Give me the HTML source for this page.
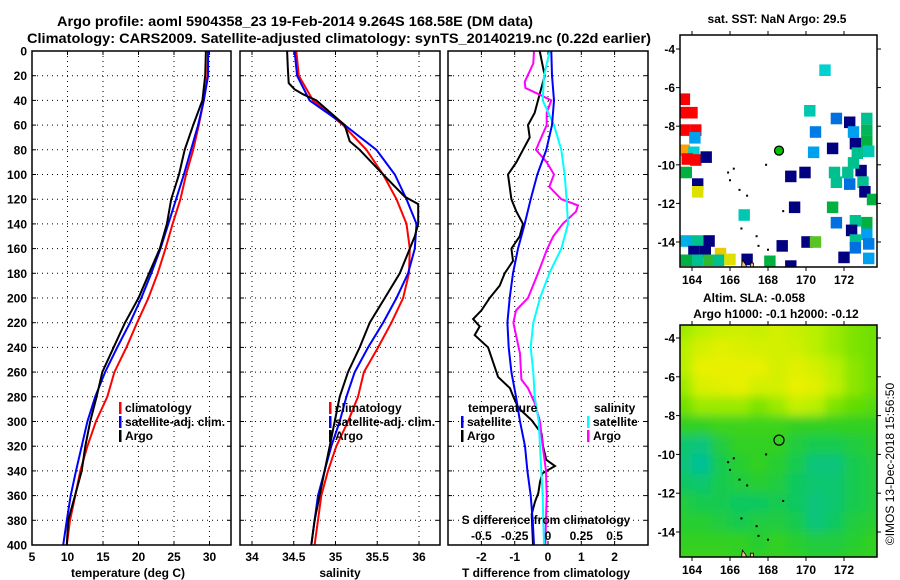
<!DOCTYPE html>
<html><head><meta charset="utf-8"><style>
body{margin:0;background:#fff;}
svg{display:block;font-family:"Liberation Sans",Arial,sans-serif;font-weight:bold;}
</style></head><body>
<svg id="fig" width="900" height="580" viewBox="0 0 900 580" xmlns="http://www.w3.org/2000/svg">
<rect width="900" height="580" fill="#fff"/>
<text x="57" y="26" font-size="14" textLength="476" lengthAdjust="spacingAndGlyphs">Argo profile: aoml 5904358_23 19-Feb-2014 9.264S 168.58E (DM data)</text>
<text x="27" y="43" font-size="14" textLength="624" lengthAdjust="spacingAndGlyphs">Climatology: CARS2009. Satellite-adjusted climatology: synTS_20140219.nc (0.22d earlier)</text>
<g id="plots"></g>
</svg>
<script>
// ---------- profile data (depth in dbar) ----------
const depthStd=[0,20,40,60,80,100,120,140,160,180,200,220,240,260,280,300,320,340,360,380,400];
const tempClim=[29.8,29.7,29.2,28.5,27.7,26.7,25.9,24.8,23.8,22.7,21.4,19.8,18.3,16.6,15.6,14.0,12.8,11.8,11.1,10.35,9.9];
const tempSat=[29.8,29.8,29.2,28.4,27.4,26.4,25.3,24.2,23.1,21.8,20.4,18.8,17.0,15.3,13.9,12.8,12.0,11.2,10.45,9.9,9.4];
const tempArgo=[29.5,29.4,29.0,27.7,26.5,25.7,24.6,24.0,23.0,21.5,20.0,18.1,16.5,14.9,14.1,13.2,12.5,12.0,11.05,10.1,9.9];
const salClim=[34.53,34.56,34.73,35.09,35.37,35.57,35.73,35.85,35.89,35.88,35.81,35.67,35.51,35.34,35.27,35.15,35.01,34.91,34.83,34.79,34.75];
const salSat=[34.51,34.54,34.69,35.11,35.49,35.71,35.85,35.97,35.95,35.87,35.73,35.57,35.39,35.23,35.13,35.05,34.95,34.87,34.79,34.75,34.71];
const salArgoDepth=[0,15,26,31,35,40,60,73,80,100,118,124,140,150,160,180,200,220,240,260,280,300,320,340,360,380,400];
const salArgo=[34.42,34.43,34.44,34.51,34.61,34.77,35.11,35.17,35.29,35.57,35.83,35.99,35.99,35.95,35.89,35.77,35.59,35.41,35.29,35.15,35.05,34.99,34.93,34.87,34.81,34.75,34.71];
const tdiffSat=[0.1,0.12,0.18,0.12,-0.05,-0.32,-0.52,-0.7,-0.9,-1.05,-1.15,-1.22,-1.18,-1.1,-0.96,-0.84,-0.69,-0.62,-0.52,-0.46,-0.42];
const tdiffArgoDepth=[0,20,40,50,60,70,80,90,100,120,130,140,150,160,170,180,190,200,210,217,223,230,240,264,273,280,289,299,310,320,331,336,342,349,358,365,375,400];
const tdiffArgo=[-0.25,-0.1,-0.3,-0.4,-0.6,-0.55,-0.75,-0.95,-1.2,-1.1,-0.95,-0.75,-0.85,-1.1,-1.05,-1.3,-1.45,-1.75,-2.0,-2.25,-2.05,-2.2,-1.8,-1.5,-1.14,-1.04,-0.89,-0.49,-0.19,-0.15,-0.05,0.21,-0.17,-0.24,-0.29,-0.39,-0.49,-0.45];
const sdiffSat=[0.0125,-0.03,-0.04,0.045,0.1,0.125,0.14,0.15,0.10,0.01,-0.06,-0.11,-0.13,-0.11,-0.10,-0.07,-0.06,-0.05,-0.04,-0.035,-0.03];
const sdiffArgoDepth=[0,10,25,30,35,40,50,60,70,80,90,100,110,120,125,130,140,150,160,180,200,210,220,230,245,266,273,285,300,320,340,360,380,400];
const sdiffArgo=[-0.105,-0.11,-0.175,-0.17,-0.07,0.025,-0.01,-0.01,-0.05,-0.09,-0.01,0.045,0.01,0.1,0.225,0.21,0.11,0.04,-0.005,-0.075,-0.15,-0.24,-0.26,-0.24,-0.21,-0.2,-0.15,-0.1,-0.06,-0.04,-0.015,-0.01,-0.015,-0.02];
const depthTicks=[0,20,40,60,80,100,120,140,160,180,200,220,240,260,280,300,320,340,360,380,400];
const tempTicks=[5,10,15,20,25,30];
const salTicks=[34,34.5,35,35.5,36];
const tdiffTicks=[-2,-1,0,1,2];
const sdiffTicks=[-0.5,-0.25,0,0.25,0.5];
const sdiffTickLabels=["-0.5","-0.25","0","0.25","0.5"];
// ---------- map data ----------
const lonTicks=[164,166,168,170,172];
const latTicks=[-4,-6,-8,-10,-12,-14];
const argoLon=168.58, argoLat=-9.264;
const sstLon=[171.0,163.6,163.6,164.0,163.6,164.2,164.15,163.6,164.1,163.75,164.2,164.75,163.7,164.3,164.3,170.2,171.6,170.5,171.4,170.4,172.3,172.5,173.2,173.2,173.2,172.6,173.3,172.7,171.5,172.2,172.9,171.6,172.3,173.0,172.5,169.2,169.95,169.4,171.4,171.6,173.1,173.5,166.75,172.6,173.2,172.4,172.6,173.2,172.6,173.3,168.75,170.05,170.5,172.0,173.3,163.7,164.3,164.9,164.1,164.7,165.5,163.7,164.3,164.9,165.4,166.0,166.9,168.1,169.2];
const sstLat=[-5.1,-6.6,-7.3,-7.3,-8.2,-8.2,-8.6,-9.25,-9.35,-9.7,-9.75,-9.6,-10.4,-11.0,-11.4,-7.2,-7.6,-8.3,-9.15,-9.35,-7.8,-8.3,-7.6,-8.2,-8.8,-8.9,-9.3,-9.4,-10.4,-10.4,-10.3,-10.9,-11.0,-10.9,-9.9,-10.6,-10.4,-12.2,-12.2,-13.0,-11.4,-11.8,-12.6,-12.9,-13.0,-13.4,-13.9,-13.6,-14.3,-14.1,-14.2,-14.0,-14.0,-14.8,-14.85,-13.95,-13.95,-13.95,-14.5,-14.5,-14.6,-14.95,-14.95,-14.95,-14.95,-14.9,-14.9,-15.0,-15.25];
const sstVal=[28.6,30.4,30.4,30.4,30.4,30.4,28.3,29.9,28.6,30.4,30.4,26.8,29.1,26.8,29.6,28.7,27.9,28.0,26.8,28.3,26.8,28.3,28.8,29.0,29.1,26.8,28.7,28.8,28.8,28.8,26.8,28.8,27.9,28.8,28.8,26.8,26.8,26.8,29.1,27.9,26.8,29.1,28.7,28.8,29.1,26.8,28.8,28.3,27.9,28.0,26.8,26.8,29.3,26.8,28.3,28.4,28.8,26.8,26.8,26.8,29.7,29.1,28.8,29.2,28.8,29.6,26.8,29.1,26.8];
const slaLonCenters=[163.5,164.5,165.5,166.5,167.5,168.5,169.5,170.5,171.5,172.5,173.5];
const slaLatCenters=[-3.5,-4.5,-5.5,-6.5,-7.5,-8.5,-9.5,-10.5,-11.5,-12.5,-13.5,-14.5,-15.5];
const slaGrid=[
[0.08,0.10,0.12,0.13,0.12,0.14,0.12,0.10,0.08,0.06,0.05],
[0.10,0.14,0.16,0.15,0.14,0.14,0.13,0.10,0.08,0.06,0.05],
[0.10,0.17,0.18,0.17,0.17,0.14,0.16,0.14,0.10,0.07,0.05],
[0.08,0.15,0.16,0.17,0.14,0.14,0.18,0.16,0.11,0.07,0.05],
[0.05,0.08,0.08,0.08,0.06,0.08,0.12,0.10,0.06,0.04,0.03],
[0.00,0.00,0.01,0.01,0.01,0.01,0.00,0.00,0.00,0.00,0.00],
[-0.05,-0.06,-0.02,0,0,0,-0.02,-0.03,-0.03,-0.02,-0.01],
[-0.06,-0.08,-0.03,-0.01,0,-0.01,-0.03,-0.06,-0.06,-0.03,-0.02],
[-0.04,-0.05,-0.03,-0.02,-0.01,-0.02,-0.04,-0.05,-0.05,-0.03,-0.02],
[-0.02,-0.03,-0.03,-0.04,-0.04,-0.03,-0.04,-0.06,-0.05,-0.03,-0.02],
[-0.01,-0.01,-0.02,-0.03,-0.02,-0.02,-0.03,-0.06,-0.04,-0.02,-0.01],
[0,0,0,0,-0.01,0,-0.01,-0.02,-0.02,-0.01,0],
[0.01,0.01,0.01,0,0,0,0,-0.01,-0.01,0,0]];

const NS="http://www.w3.org/2000/svg";
const root=document.getElementById('plots');
function mk(tag,attrs,parent){const e=document.createElementNS(NS,tag);for(const k in attrs)e.setAttribute(k,attrs[k]);(parent||root).appendChild(e);return e;}
function txt(s,x,y,size,anchor,parent){const t=mk('text',{x:x,y:y,'font-size':size,'text-anchor':anchor||'start'},parent);t.textContent=s;return t;}

const TOP=51,BOT=545;
function yD(d){return TOP+d*(BOT-TOP)/400;}
function xT(v){return 32+(v-5)*7.1;}
function xS(v){return 252+(v-34)*83.5;}
function xTd(v){return 548+v*33.3;}
function xSd(v){return 548+v*133.2;}

function panel(name,x0,x1,xticks,xfn){
  const g=mk('g',{});
  
  
  xticks.forEach(v=>{const x=xfn(v);if(x>x0+2&&x<x1-2)mk('line',{x1:x,y1:TOP,x2:x,y2:BOT,stroke:'#000','stroke-width':1,'stroke-dasharray':'1,4'},g);});
  depthTicks.forEach(d=>{const y=yD(d);if(d>0&&d<400){mk('line',{x1:x0,y1:y,x2:x1,y2:y,stroke:'#000','stroke-width':1,'stroke-dasharray':'1,4'},g);
    mk('line',{x1:x0,y1:y,x2:x0+4,y2:y,stroke:'#000','stroke-width':1},g);mk('line',{x1:x1-4,y1:y,x2:x1,y2:y,stroke:'#000','stroke-width':1},g);}});
  xticks.forEach(v=>{const x=xfn(v);mk('line',{x1:x,y1:BOT,x2:x,y2:BOT-4,stroke:'#000'},g);mk('line',{x1:x,y1:TOP,x2:x,y2:TOP+4,stroke:'#000'},g);});
  return g;
}
function series(g,name,depths,vals,xfn,color,w){
  const pts=vals.map((v,i)=>xfn(v).toFixed(1)+','+yD(depths[i]).toFixed(1)).join(' ');
  const p=mk('polyline',{points:pts,fill:'none',stroke:color,'stroke-width':w||2,'stroke-linejoin':'miter'},g);
  
  
}
function frame(g,x0,x1){mk('rect',{x:x0,y:TOP,width:x1-x0,height:BOT-TOP,fill:'none',stroke:'#000','stroke-width':1.5},g);}
function legend(g,items,x,y){items.forEach((it,i)=>{const yy=y+i*14;mk('rect',{x:x,y:yy-10,width:2.5,height:12,fill:it[1]},g);const t=txt(it[0],x+6,yy,12,'start',g);});}

// Panel 1
let g1=panel('temperature-panel',32,231,tempTicks,xT);
series(g1,'temp-climatology-line',depthStd,tempClim,xT,'#ff0000');
series(g1,'temp-satellite-line',depthStd,tempSat,xT,'#0000ff');
series(g1,'temp-argo-line',depthStd,tempArgo,xT,'#000000');
frame(g1,32,231);
depthTicks.forEach(d=>txt(String(d),27,yD(d)+4.5,12,'end',g1));
tempTicks.forEach(v=>txt(String(v),xT(v),561,12,'middle',g1));
let xt1=txt('temperature (deg C)',128,577,12,'middle',g1);
legend(g1,[['climatology','#ff0000'],['satellite-adj. clim.','#0000ff'],['Argo','#000']],119,412);

// Panel 2
let g2=panel('salinity-panel',240,440,salTicks,xS);
series(g2,'sal-climatology-line',depthStd,salClim,xS,'#ff0000');
series(g2,'sal-satellite-line',depthStd,salSat,xS,'#0000ff');
series(g2,'sal-argo-line',salArgoDepth,salArgo,xS,'#000000');
frame(g2,240,440);
salTicks.forEach(v=>txt(String(v),xS(v),561,12,'middle',g2));
let xt2=txt('salinity',340,577,12,'middle',g2);
legend(g2,[['climatology','#ff0000'],['satellite-adj. clim.','#0000ff'],['Argo','#000']],329,412);

// Panel 3
let g3=panel('difference-panel',448,648,tdiffTicks,xTd);
series(g3,'tdiff-argo-line',tdiffArgoDepth,tdiffArgo,xTd,'#000000');
series(g3,'sdiff-argo-line',sdiffArgoDepth,sdiffArgo,xSd,'#ff00ff');
series(g3,'sdiff-satellite-line',depthStd,sdiffSat,xSd,'#00ffff');
series(g3,'tdiff-satellite-line',depthStd,tdiffSat,xTd,'#0000ff');
frame(g3,448,648);
tdiffTicks.forEach(v=>txt(String(v),xTd(v),561,12,'middle',g3));
sdiffTicks.forEach((v,i)=>txt(sdiffTickLabels[i],xSd(v),540,12,'middle',g3));
let st=txt('S difference from climatology',546,524,12,'middle',g3);
let tt=txt('T difference from climatology',546,577,12,'middle',g3);
txt('temperature',468,412,12,'start',g3);
legend(g3,[['satellite','#0000ff'],['Argo','#000']],461,426);
txt('salinity',594,412,12,'start',g3);
legend(g3,[['satellite','#00ffff'],['Argo','#ff00ff']],587,426);

// ---------- maps ----------
const MX0=680,MX1=877;
function mLon(l){return 692+(l-164)*19;}
function interp(stops,v){if(v<=stops[0][0])return stops[0][1];for(let i=1;i<stops.length;i++){if(v<=stops[i][0]){const a=stops[i-1],b=stops[i];const t=(v-a[0])/(b[0]-a[0]);const ca=hex(a[1]),cb=hex(b[1]);return 'rgb('+ca.map((c,k)=>Math.round(c+(cb[k]-c)*t)).join(',')+')';}}return stops[stops.length-1][1];}
function hex(h){return [1,3,5].map(i=>parseInt(h.substr(i,2),16));}
const sstStops=[[26.8,'#000080'],[27.9,'#0070e0'],[28.3,'#00a0f0'],[28.6,'#00d0d0'],[28.8,'#00c090'],[29.1,'#00b040'],[29.6,'#e0e000'],[29.9,'#ffa000'],[30.4,'#ff0000']];
const slaStops=[[-0.08,'#00c098'],[-0.04,'#10c860'],[0,'#30d020'],[0.05,'#70e000'],[0.1,'#b8f000'],[0.17,'#e8f000']];

function mapAxes(g,y0,y1,mLat){
  lonTicks.forEach(l=>{const x=mLon(l);mk('line',{x1:x,y1:y0,x2:x,y2:y0-4,stroke:'#000'},g);mk('line',{x1:x,y1:y1,x2:x,y2:y1+4,stroke:'#000'},g);txt(String(l),x,y1+17,12,'middle',g);});
  latTicks.forEach(l=>{const y=mLat(l);mk('line',{x1:MX0,y1:y,x2:MX0-4,y2:y,stroke:'#000'},g);mk('line',{x1:MX1,y1:y,x2:MX1+4,y2:y,stroke:'#000'},g);txt(String(l),675,y+4.5,12,'end',g);});
  mk('rect',{x:MX0,y:y0,width:MX1-MX0,height:y1-y0,fill:'none',stroke:'#000','stroke-width':1.5},g);
}
function islands(g,mLat){
  [[166.2,-10.2],[166.0,-10.8],[166.5,-11.3],[166.9,-11.6],[166.6,-13.3],[167.4,-13.7],[167.5,-14.2],[168.0,-14.4],[167.9,-10.0],[168.8,-12.4],[165.9,-10.4]].forEach(p=>mk('rect',{x:mLon(p[0])-1,y:mLat(p[1])-1,width:2,height:2,fill:'#000'},g));
  mk('path',{d:'M'+mLon(166.6)+','+mLat(-15.35)+' l1,-8 l3,4 l2,4 l3,0 l0,-5 l3,0 l0,5 z',fill:'#f5c090',stroke:'#000','stroke-width':0.8},g);
}
// Map 1 SST
const m1=mk('g',{});


function mLat1(l){return 49+(-4-l)*19.3;}
const cp1=mk('clipPath',{id:'c1'},m1);mk('rect',{x:MX0,y:35,width:MX1-MX0,height:232},cp1);
const m1c=mk('g',{'clip-path':'url(#c1)'},m1);
sstVal.forEach((v,i)=>{const r=mk('rect',{x:(mLon(sstLon[i])-5.7).toFixed(1),y:(mLat1(sstLat[i])-5.8).toFixed(1),width:11.4,height:11.6,fill:interp(sstStops,v)},m1c);

});
islands(m1c,mLat1);
const ap=mk('circle',{cx:mLon(argoLon),cy:mLat1(argoLat),r:4.5,fill:'#00c000',stroke:'#000','stroke-width':1.3},m1);

mapAxes(m1,35,267,mLat1);
txt('sat. SST: NaN Argo: 29.5',777,23,12,'middle',m1);

// Map 2 SLA
const m2=mk('g',{});


function mLat2(l){return 338+(-4-l)*19.4;}
const cp=mk('clipPath',{id:'c2'},m2);mk('rect',{x:MX0,y:325,width:MX1-MX0,height:232},cp);
const flt=mk('filter',{id:'bl',x:'-10%',y:'-10%',width:'120%',height:'120%'},m2);mk('feGaussianBlur',{stdDeviation:5},flt);
const m2c=mk('g',{'clip-path':'url(#c2)'},m2);
const m2b=mk('g',{filter:'url(#bl)'},m2c);
slaGrid.forEach((row,ri)=>row.forEach((v,ci)=>{
  let x=mLon(slaLonCenters[ci]-0.5),w=19,y=mLat2(slaLatCenters[ri]+0.5),h=19.4;
  if(ci===0){x-=20;w+=20;} if(ci===row.length-1){w+=20;}
  if(ri===0){y-=20;h+=20;} if(ri===slaGrid.length-1){h+=20;}
  const r=mk('rect',{x:x.toFixed(1),y:y.toFixed(1),width:w+0.5,height:h+0.5,fill:interp(slaStops,v)},m2b);
  
  
}));
islands(m2c,mLat2);
mk('circle',{cx:mLon(argoLon),cy:mLat2(argoLat),r:5,fill:'none',stroke:'#000','stroke-width':1.2},m2);
mapAxes(m2,325,557,mLat2);
txt('Altim. SLA: -0.058',754,302,12,'middle',m2);
txt('Argo h1000: -0.1 h2000: -0.12',776,318,12,'middle',m2);
const cr=txt('©IMOS 13-Dec-2018 15:56:50',0,0,12,'middle',root);
cr.setAttribute('transform','translate(894,464) rotate(-90)');
cr.setAttribute('font-weight','normal');


</script>
</body></html>
